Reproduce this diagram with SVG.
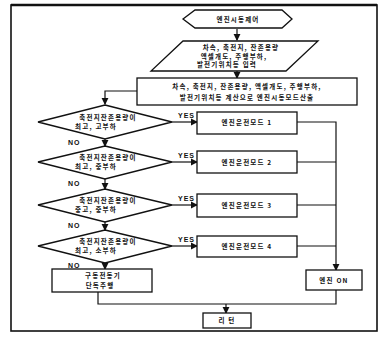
<svg xmlns="http://www.w3.org/2000/svg" width="382" height="338" viewBox="0 0 382 338">
<defs>
<marker id="ah" viewBox="0 0 8 8" refX="7" refY="4" markerWidth="6" markerHeight="6" orient="auto">
<path d="M0,0 L8,4 L0,8 z" fill="#111"/>
</marker>
<style>
.s{fill:#fff;stroke:#111;stroke-width:1.3}
.c{fill:none;stroke:#111;stroke-width:1.2}
.t{font-family:"Noto Sans CJK KR","Noto Sans",sans-serif;font-size:6.5px;font-weight:bold;fill:#111;letter-spacing:1.2px;text-anchor:middle}
.l{font-family:"Liberation Sans",sans-serif;font-size:7px;font-weight:bold;fill:#111;letter-spacing:1px}
</style>
</defs>
<rect x="0" y="0" width="382" height="338" fill="#fff"/>
<rect x="11" y="5" width="366" height="326" fill="none" stroke="#111" stroke-width="1.6"/>
<line x1="11" y1="5" x2="377" y2="5" stroke="#111" stroke-width="2.4"/>

<g id="connectors">
<line class="c" x1="237" y1="29" x2="237" y2="40" marker-end="url(#ah)"/>
<line class="c" x1="237" y1="71" x2="237" y2="78" marker-end="url(#ah)"/>
<polyline class="c" points="137,91 105,91 105,104" marker-end="url(#ah)"/>
<line class="c" x1="172" y1="122" x2="197" y2="122" marker-end="url(#ah)"/>
<line class="c" x1="172" y1="162" x2="197" y2="162" marker-end="url(#ah)"/>
<line class="c" x1="172" y1="205" x2="197" y2="205" marker-end="url(#ah)"/>
<line class="c" x1="172" y1="246" x2="197" y2="246" marker-end="url(#ah)"/>
<line class="c" x1="105" y1="139" x2="105" y2="146" marker-end="url(#ah)"/>
<line class="c" x1="105" y1="179" x2="105" y2="189" marker-end="url(#ah)"/>
<line class="c" x1="105" y1="222" x2="105" y2="230" marker-end="url(#ah)"/>
<line class="c" x1="105" y1="263" x2="105" y2="269" marker-end="url(#ah)"/>
<polyline class="c" points="297,122 336,122 336,270" marker-end="url(#ah)"/>
<line class="c" x1="297" y1="162" x2="336" y2="162"/>
<line class="c" x1="297" y1="205" x2="336" y2="205"/>
<line class="c" x1="297" y1="246" x2="336" y2="246"/>
<polyline class="c" points="98,292 98,304 336,304 336,290"/>
<line class="c" x1="226" y1="304" x2="226" y2="313" marker-end="url(#ah)"/>
<text class="l" x="178" y="118">YES</text>
<text class="l" x="178" y="158">YES</text>
<text class="l" x="178" y="201">YES</text>
<text class="l" x="178" y="242">YES</text>
<text class="l" x="68" y="145">NO</text>
<text class="l" x="68" y="186">NO</text>
<text class="l" x="68" y="228">NO</text>
<text class="l" x="68" y="268">NO</text>
</g>

<g id="start">
<polygon class="s" points="183,19 195,10 282,10 292,19 282,28 195,28"/>
<text class="t" x="238" y="22">엔진시동제어</text>
</g>

<g id="input">
<polygon class="s" points="183,41 318,41 286,71 151,71"/>
<text class="t" x="241" y="50">차속, 축전지, 잔존용량</text>
<text class="t" x="234" y="58.5">액셀개도, 주행부하,</text>
<text class="t" x="227" y="67">발전기위치등 입력</text>
</g>

<g id="calc">
<rect class="s" x="137" y="78" width="220" height="27"/>
<text class="t" x="247" y="89">차속, 축전지, 잔존용량, 액셀개도, 주행부하,</text>
<text class="t" x="247" y="100">발전기위치등 계산으로 엔진시동모드산출</text>
</g>

<g id="d1">
<polygon class="s" points="105,105 172,122 105,139 38,122"/>
<text class="t" x="108" y="120">축전지잔존용량이</text>
<text class="t" x="96" y="129">최고, 고부하</text>
</g>
<g id="d2">
<polygon class="s" points="105,146 172,162 105,179 38,162"/>
<text class="t" x="108" y="160">축전지잔존용량이</text>
<text class="t" x="96" y="169">최고, 중부하</text>
</g>
<g id="d3">
<polygon class="s" points="105,189 172,205 105,222 38,205"/>
<text class="t" x="108" y="203">축전지잔존용량이</text>
<text class="t" x="96" y="212">중고, 중부하</text>
</g>
<g id="d4">
<polygon class="s" points="105,230 172,246 105,263 38,246"/>
<text class="t" x="108" y="244">축전지잔존용량이</text>
<text class="t" x="96" y="253">최고, 소부하</text>
</g>

<g id="mode1">
<rect class="s" x="197" y="112" width="100" height="22"/>
<text class="t" x="247" y="125">엔진운전모드 1</text>
</g>
<g id="mode2">
<rect class="s" x="197" y="151" width="100" height="22"/>
<text class="t" x="247" y="165">엔진운전모드 2</text>
</g>
<g id="mode3">
<rect class="s" x="197" y="194" width="100" height="23"/>
<text class="t" x="247" y="208">엔진운전모드 3</text>
</g>
<g id="mode4">
<rect class="s" x="197" y="236" width="100" height="21"/>
<text class="t" x="247" y="249">엔진운전모드 4</text>
</g>

<g id="engine-on">
<rect class="s" x="306" y="270" width="56" height="20"/>
<text class="t" x="334" y="283">엔진 ON</text>
</g>

<g id="motor">
<rect class="s" x="52" y="269" width="100" height="23"/>
<text class="t" x="103" y="278">구동전동기</text>
<text class="t" x="100" y="288">단독주행</text>
</g>

<g id="return">
<rect class="s" x="203" y="313" width="48" height="15"/>
<text class="t" x="227" y="323">리 턴</text>
</g>
</svg>
